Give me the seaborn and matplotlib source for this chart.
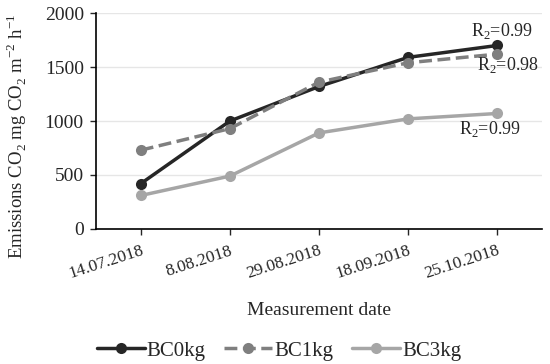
import pandas as pd
import matplotlib.pyplot as plt
import seaborn as sns

dates = ["14.07.2018", "8.08.2018", "29.08.2018", "18.09.2018", "25.10.2018"]
bc0 = [420, 1000, 1320, 1590, 1700]
bc1 = [730, 930, 1360, 1540, 1620]
bc3 = [310, 490, 890, 1020, 1070]
r2_labels = ["R$_2$=0.99", "R$_2$=0.98", "R$_2$=0.99"]

sns.set_style("white")
plt.rcParams["font.family"] = ["Liberation Serif", "DejaVu Serif"]
plt.rcParams["mathtext.fontset"] = "custom"
plt.rcParams["mathtext.rm"] = "Liberation Serif"

fig = plt.figure(figsize=(5.5, 3.64), dpi=100)
ax = fig.add_axes([0.175, 0.371, 0.81, 0.593])

series = {"BC0kg": (bc0, "#262626", "-"),
          "BC1kg": (bc1, "#7f7f7f", "--"),
          "BC3kg": (bc3, "#a6a6a6", "-")}
for name, (vals, col, ls) in series.items():
    df = pd.DataFrame({"date": dates, "val": vals})
    sns.lineplot(data=df, x="date", y="val", ax=ax, color=col, linestyle=ls,
                 lw=2.5, marker="o", markersize=8, markeredgewidth=0,
                 label=name, sort=False)

ax.set_ylim(0, 2000)
ax.set_xlim(-0.5, 4.5)
ax.set_yticks([0, 500, 1000, 1500, 2000])
ax.grid(axis="y", color="#e6e6e6", lw=1)
ax.set_axisbelow(True)
for s in ["top", "right"]:
    ax.spines[s].set_visible(False)
for s in ["left", "bottom"]:
    ax.spines[s].set_color("black")
    ax.spines[s].set_linewidth(1.2)
ax.tick_params(axis="y", direction="out", length=4, width=1, labelsize=14,
               left=True, pad=5)
ax.tick_params(axis="x", direction="out", length=4, width=1, labelsize=12.5,
               bottom=True, pad=6)
plt.setp(ax.get_xticklabels(), rotation=18, ha="right", rotation_mode="anchor")
ax.set_xlabel("Measurement date", fontsize=14, labelpad=14)
ax.set_ylabel("Emissions CO$_2$ mg CO$_2$ m$^{-2}$ h$^{-1}$", fontsize=13.5)
ax.yaxis.set_label_coords(-0.15, 0.43)

ax.text(4.05, 1790, r2_labels[0], fontsize=13, ha="center")
ax.text(4.12, 1470, r2_labels[1], fontsize=13, ha="center")
ax.text(3.92, 880, r2_labels[2], fontsize=13, ha="center")

ax.legend(loc="center", bbox_to_anchor=(0.41, -0.565), ncol=3,
          frameon=False, fontsize=15, handlelength=2.3, columnspacing=0.9,
          handletextpad=0.1, borderpad=0.1)

fig.savefig("out.png", dpi=100)
